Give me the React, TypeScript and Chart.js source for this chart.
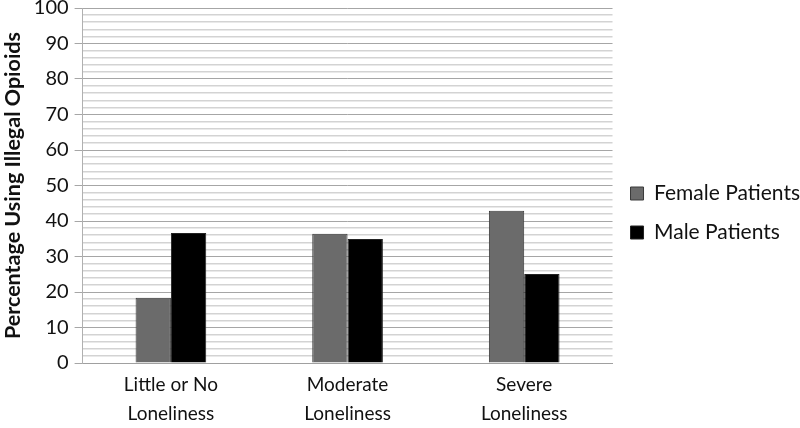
import React, { useEffect, useRef } from "react";
import { Chart, registerables } from "chart.js";

Chart.register(...registerables);

const categories: string[][] = [["Little or No", "Loneliness"], ["Moderate", "Loneliness"], ["Severe", "Loneliness"]];
const femaleValues = [18.4, 36.4, 42.9];
const maleValues = [36.6, 34.9, 25.1];
const seriesNames = ["Female Patients", "Male Patients"];
const yTitle = "Percentage Using Illegal Opioids";

const FONT = "Lato, 'Open Sans', sans-serif";

export default function App() {
  const ref = useRef<HTMLCanvasElement | null>(null);
  useEffect(() => {
    document.body.style.margin = "0";
    const ctx = ref.current!.getContext("2d")!;
    const chart = new Chart(ctx, {
      type: "bar",
      data: {
        labels: categories,
        datasets: [
          {
            label: seriesNames[0],
            data: femaleValues,
            backgroundColor: "#6b6b6b",
            borderColor: "#3a3a3a",
            borderWidth: 1,
          },
          {
            label: seriesNames[1],
            data: maleValues,
            backgroundColor: "#000000",
            borderColor: "#222222",
            borderWidth: 1,
          },
        ],
      },
      options: {
        animation: false,
        responsive: false,
        maintainAspectRatio: false,
        layout: { padding: { top: 0, right: 0, left: 0, bottom: 0 } },
        plugins: {
          tooltip: { enabled: false },
          legend: {
            position: "right",
            labels: {
              boxWidth: 13,
              boxHeight: 13,
              padding: 18,
              color: "#111",
              font: { family: FONT, size: 21 },
            },
          },
        },
        datasets: { bar: { categoryPercentage: 0.4, barPercentage: 1.0 } },
        scales: {
          x: {
            grid: { display: false, drawTicks: false },
            border: { display: true, color: "#a0a0a0" },
            ticks: {
              color: "#111",
              font: { family: FONT, size: 19, lineHeight: 1.5 },
              padding: 8,
              maxRotation: 0,
            },
          },
          y: {
            min: 0,
            max: 100,
            border: { display: true, color: "#b0b0b0" },
            ticks: {
              stepSize: 2,
              autoSkip: false,
              color: "#111",
              font: { family: FONT, size: 20 },
              padding: 6,
              callback: (v: any) => (Number(v) % 10 === 0 ? String(v) : ""),
            },
            grid: {
              color: (c: any) => (c.tick && c.tick.value % 10 === 0 ? "#a6a6a6" : "#d3d3d3"),
              lineWidth: (c: any) => (c.tick && c.tick.value % 10 === 0 ? 1 : 1.5),
              tickColor: (c: any) => (c.tick && c.tick.value % 10 === 0 ? "#a6a6a6" : "rgba(0,0,0,0)"),
              tickLength: 8,
            },
            title: {
              display: true,
              text: yTitle,
              color: "#111",
              font: { family: FONT, size: 21.5, weight: "bold" },
              padding: { top: 0, bottom: 2 },
            },
          },
        },
      },
    });
    return () => chart.destroy();
  }, []);
  return (
    <div style={{ position: "fixed", left: 0, top: 0, width: 800, height: 428, overflow: "hidden", background: "#fff" }}>
      <canvas ref={ref} width={810} height={446} style={{ position: "absolute", left: 0, top: -10 }} />
    </div>
  );
}
